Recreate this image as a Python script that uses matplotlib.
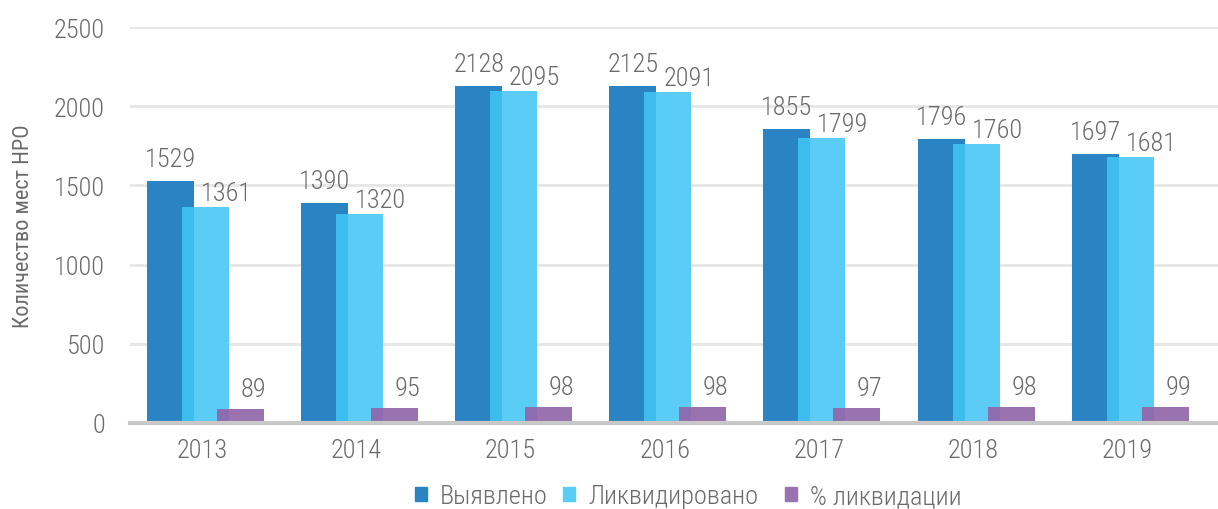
import numpy as np
import matplotlib
matplotlib.use("Agg")
import matplotlib.pyplot as plt
from matplotlib import font_manager
from matplotlib.patches import Patch

years = ['2013', '2014', '2015', '2016', '2017', '2018', '2019']
found = [1529, 1390, 2128, 2125, 1855, 1796, 1697]
removed = [1361, 1320, 2095, 2091, 1799, 1760, 1681]
percent = [89, 95, 98, 98, 97, 98, 99]
names = ['Выявлено', 'Ликвидировано', '% ликвидации']

# pick a narrow font if there is one
fonts = font_manager.fontManager.ttflist
avail = set(f.name for f in fonts)
family = 'DejaVu Sans'
stretch = 'normal'
for cand in ['Roboto Condensed', 'Open Sans Condensed', 'Liberation Sans Narrow', 'Noto Sans Condensed']:
    if cand in avail:
        family = cand
        break
else:
    if any(f.name == 'DejaVu Sans' and f.stretch == 'condensed' for f in fonts):
        stretch = 'condensed'
weight = 'normal'
if any(f.name == family and f.weight in (300, 'light') for f in fonts):
    weight = 'light'
plt.rcParams['font.family'] = [family, 'DejaVu Sans']
plt.rcParams['font.stretch'] = stretch
plt.rcParams['font.weight'] = weight

txt = '#6b6b6b'
c_blue = '#2a84c3'
c_cyan = '#5bccf6'
c_cyan_side = '#3dbdee'
c_purple = '#9b72b0'
c_purple_side = '#8d6db0'

fig = plt.figure(figsize=(12.18, 5.10), dpi=100)
ax = fig.add_axes([130 / 1218, 86 / 510, 1088 / 1218, 396 / 510])

x = np.arange(len(years))
w = 0.305
off = 0.227

ax.bar(x - off, found, w, color=c_blue, zorder=3)
ax.bar(x, removed, w, color=c_cyan, zorder=4)
ax.bar(x - w / 2, removed, w - off, align='edge', color=c_cyan_side, zorder=4)
ax.bar(x + off, percent, w, color=c_purple, zorder=5)
ax.bar(x + off - w / 2, percent, w - off, align='edge', color=c_purple_side, zorder=5)

for i in range(len(years)):
    ax.annotate(str(found[i]), (x[i] - off, found[i]), xytext=(0, 10), textcoords='offset pixels',
                ha='center', va='bottom', fontsize=19, color=txt)
    ax.annotate(str(removed[i]), (x[i], removed[i]), xytext=(21, 2), textcoords='offset pixels',
                ha='center', va='bottom', fontsize=19, color=txt)
    ax.annotate(str(percent[i]), (x[i] + off, percent[i]), xytext=(13, 8), textcoords='offset pixels',
                ha='center', va='bottom', fontsize=19, color=txt)

ax.set_ylim(0, 2500)
ax.set_xlim(-0.49, 6.57)
ax.set_yticks(np.arange(0, 2501, 500))
ax.set_xticks(x - 0.02)
ax.set_xticklabels(years)
ax.tick_params(axis='both', length=0, labelsize=19, labelcolor=txt)
ax.tick_params(axis='y', pad=18)
ax.tick_params(axis='x', pad=11)
ax.grid(axis='y', color='#e6e6e6', linewidth=2, zorder=0)
for s in ['top', 'right', 'left']:
    ax.spines[s].set_visible(False)
ax.spines['bottom'].set_color('#c8c8c8')
ax.spines['bottom'].set_linewidth(3)
ax.spines['bottom'].set_zorder(6)

ax.set_ylabel('Количество мест НРО', fontsize=16, color=txt, labelpad=14)

# legend entries placed one by one, like the original
colors = [c_blue, c_cyan, c_purple]
left_px = [415, 563, 785]
for name, col, lx in zip(names, colors, left_px):
    fig.legend([Patch(color=col)], [name], loc='center left',
               bbox_to_anchor=(lx / 1218, 1 - 497 / 510), borderaxespad=0, borderpad=0,
               frameon=False, fontsize=19, labelcolor=txt, handlelength=0.45, handleheight=0.45,
               handletextpad=0.5)

fig.savefig('out.png', dpi=100)
